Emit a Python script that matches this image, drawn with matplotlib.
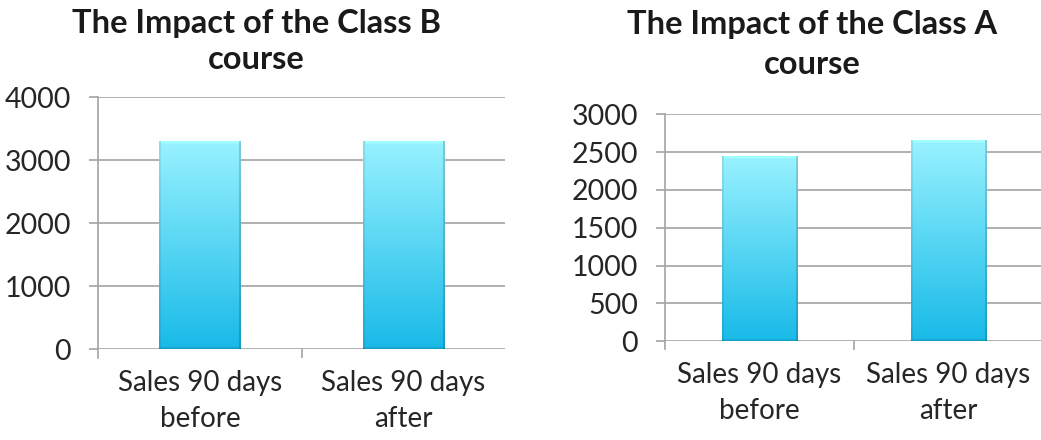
import numpy as np
import matplotlib
matplotlib.use("Agg")
import matplotlib.pyplot as plt
from matplotlib.colors import to_rgb

plt.rcParams["font.family"] = ["Lato", "DejaVu Sans"]

categories = ["Sales 90 days\nbefore", "Sales 90 days\nafter"]
class_b_sales = [3290, 3290]
class_a_sales = [2440, 2650]
class_b_ticks = [0, 1000, 2000, 3000, 4000]
class_a_ticks = [0, 500, 1000, 1500, 2000, 2500, 3000]

TOP = np.array(to_rgb("#98F2FF"))
BOTTOM = np.array(to_rgb("#18BAE8"))
GRID = "#A3A3A3"
TEXT = "#262626"


def bar_texture(h_px, w_px):
    t = np.linspace(0, 1, h_px)[:, None, None]
    img = TOP * (1 - t) + BOTTOM * t
    img = np.repeat(img, w_px, axis=1)
    # bevelled edges: shaded sides and base, lighter top rim
    img[:, -2:] *= 0.84
    img[:, :2] *= 0.92
    img[-2:, :] *= 0.86
    img[:3, 2:-2] = np.clip(img[:3, 2:-2] * 1.06, 0, 1)
    return np.clip(img, 0, 1)


def draw_panel(ax, values, ticks, ymax):
    x = np.arange(len(values))
    bars = ax.bar(x, values, width=0.4, color="none", edgecolor="none", zorder=3)
    for b in bars:
        x0, w, h = b.get_x(), b.get_width(), b.get_height()
        ax.imshow(bar_texture(240, 80), extent=(x0, x0 + w, 0, h),
                  aspect="auto", origin="upper", zorder=3, interpolation="bilinear")
    ax.set_xlim(-0.5, len(values) - 0.5)
    ax.set_ylim(0, ymax)
    ax.set_yticks(ticks)
    ax.set_yticklabels([str(t) for t in ticks])
    ax.set_xticks(x)
    ax.set_xticklabels(categories)
    ax.set_xticks([0.5], minor=True)
    ax.yaxis.grid(True, color=GRID, linewidth=1.2, zorder=0)
    ax.set_axisbelow(True)
    for s in ("top", "right", "bottom"):
        ax.spines[s].set_visible(False)
    ax.spines["left"].set_color(GRID)
    ax.spines["left"].set_linewidth(1.2)
    ax.spines["left"].set_bounds(-ymax * 0.036, ymax)
    ax.tick_params(axis="y", length=6.5, width=1.2, color=GRID, pad=13,
                   labelsize=20.5, labelcolor=TEXT, direction="out")
    ax.tick_params(axis="x", which="major", length=0, pad=15,
                   labelsize=20, labelcolor=TEXT)
    ax.tick_params(axis="x", which="minor", length=6.5, width=1.2, color=GRID)
    for lbl in ax.get_xticklabels():
        lbl.set_linespacing(1.45)


def title(cx, baselines, lines):
    for y, s in zip(baselines, lines):
        fig.text(cx / 1041, 1 - y / 440, s, ha="center", va="baseline",
                 fontsize=23.5, fontweight="bold", color="#1A1A1A")


fig = plt.figure(figsize=(10.41, 4.40), dpi=100)

ax_b = fig.add_axes([98.3 / 1041, (440 - 349.3) / 440, 406.7 / 1041, 252 / 440])
draw_panel(ax_b, class_b_sales, class_b_ticks, 4000)

ax_a = fig.add_axes([665 / 1041, (440 - 341.3) / 440, 378 / 1041, 227 / 440])
draw_panel(ax_a, class_a_sales, class_a_ticks, 3000)

title(256, [33, 69], ["The Impact of the Class B", "course"])
title(812, [34, 74], ["The Impact of the Class A", "course"])

fig.savefig("out.png", dpi=100)
